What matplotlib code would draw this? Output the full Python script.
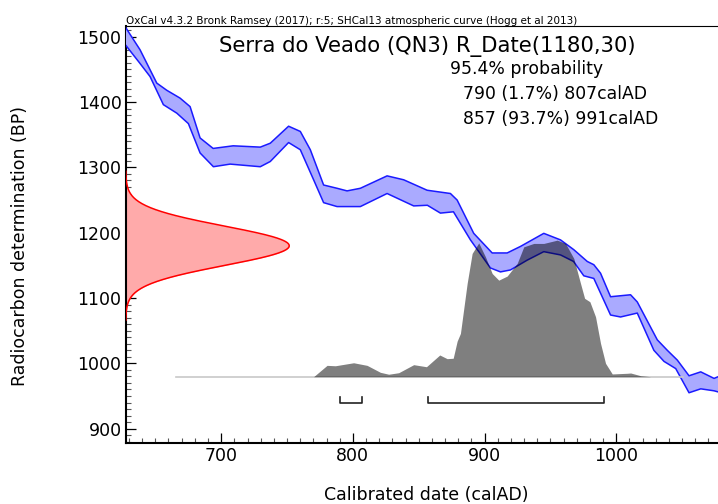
import matplotlib
matplotlib.use("Agg")
import numpy as np
import matplotlib.pyplot as plt
from matplotlib.ticker import MultipleLocator

plt.rcParams["font.family"] = ["DejaVu Sans"]

# Calibration curve (SHCal13), 1-sigma envelope: upper and lower edges
upper_year = [627.5, 638.4, 651.1, 658.7, 668.8, 676.4, 684.0, 693.9, 709.1, 719.5,
              729.7, 737.3, 751.2, 760.1, 767.7, 777.8, 788.0, 795.6, 805.7, 826.0,
              838.6, 856.4, 874.1, 879.2, 891.8, 905.8, 917.2, 927.3, 945.0, 957.7,
              967.8, 978.0, 983.0, 988.1, 995.7, 1010.9, 1016.0, 1031.2, 1038.8, 1046.4,
              1055.3, 1064.2, 1074.3, 1077.9]
upper_bp = [1514, 1480, 1429, 1418, 1406, 1393, 1345, 1329, 1333, 1332,
            1331, 1337, 1363, 1355, 1327, 1273, 1268, 1264, 1268, 1287,
            1281, 1265, 1260, 1250, 1199, 1169, 1169, 1179, 1199, 1189,
            1174, 1156, 1151, 1138, 1102, 1105, 1094, 1036, 1020, 1005,
            981, 987, 977, 980]

lower_year = [627.5, 638.4, 646.0, 656.1, 666.3, 675.1, 684.0, 694.1, 706.8, 729.7,
              737.3, 751.2, 760.1, 770.2, 777.8, 788.0, 805.7, 826.0, 846.2, 856.6,
              866.5, 876.4, 889.3, 904.5, 912.1, 919.7, 932.4, 945.0, 957.7, 967.6,
              975.4, 983.0, 995.7, 1003.3, 1016.0, 1028.6, 1036.3, 1045.2, 1055.3, 1064.2,
              1074.3, 1077.9]
lower_bp = [1487, 1459, 1439, 1396, 1383, 1367, 1322, 1301, 1305, 1301,
            1309, 1338, 1327, 1281, 1246, 1240, 1240, 1260, 1241, 1242,
            1230, 1232, 1189, 1146, 1140, 1143, 1158, 1171, 1166, 1156,
            1134, 1130, 1074, 1071, 1077, 1020, 1003, 992, 955, 961,
            958, 956]

# Radiocarbon measurement R_Date(1180,30)
date_mean = 1180
date_sd = 30

# Calibrated probability distribution (relative)
post_year = [666.0, 770.2, 780.4, 786.7, 800.6, 810.8, 820.9, 827.2, 834.8, 846.2,
             855.9, 866.0, 871.6, 876.2, 879.2, 881.7, 886.8, 890.6, 895.6, 900.7,
             905.8, 910.8, 917.2, 924.8, 929.8, 937.4, 945.0, 950.1, 955.2, 961.5,
             967.8, 972.9, 976.0, 980.0, 984.3, 988.1, 991.9, 997.0, 1008.4, 1011.0,
             1018.6, 1026.2, 1051.0]
post_prob = [0.0, 0.0, 0.083, 0.080, 0.102, 0.083, 0.032, 0.018, 0.029, 0.088,
             0.073, 0.159, 0.132, 0.135, 0.26, 0.317, 0.683, 0.903, 0.980, 0.878,
             0.756, 0.707, 0.737, 0.830, 0.951, 0.976, 0.976, 0.988, 1.0, 0.976,
             0.866, 0.683, 0.574, 0.549, 0.439, 0.244, 0.098, 0.020, 0.025, 0.027,
             0.007, 0.0, 0.0]

# 95.4% highest posterior density ranges
range_start = [790, 857]
range_end = [807, 991]
range_pct = ["1.7%", "93.7%"]

header = "OxCal v4.3.2 Bronk Ramsey (2017); r:5; SHCal13 atmospheric curve (Hogg et al 2013)"
title = "Serra do Veado (QN3) R_Date(1180,30)"

W, H = 718, 504
fig = plt.figure(figsize=(W / 100, H / 100), dpi=100)
ax = fig.add_axes([125.7 / W, (H - 443) / H, (W - 125.7) / W, (443 - 26) / H])
x0, x1 = 627.5, 1077.3
ax.set_xlim(x0, x1)
ax.set_ylim(878.1, 1516.4)

# measurement likelihood along the BP axis
bp = np.linspace(date_mean - 3.8 * date_sd, date_mean + 3.8 * date_sd, 300)
lik = np.exp(-0.5 * ((bp - date_mean) / date_sd) ** 2)
lik_x = x0 + 124.2 * lik
ax.fill_betweenx(bp, x0, lik_x, color="#ffaaaa", lw=0, zorder=2)
ax.plot(lik_x, bp, color="#ff0000", lw=1.1, zorder=3)

# calibration band
band_x = np.r_[upper_year, lower_year[::-1]]
band_y = np.r_[upper_bp, lower_bp[::-1]]
ax.fill(band_x, band_y, color="#aaaaff", lw=0, zorder=3)
ax.plot(upper_year, upper_bp, color="#1a1aff", lw=1.1, zorder=4)
ax.plot(lower_year, lower_bp, color="#1a1aff", lw=1.1, zorder=4)

# calibrated distribution
base = 979.6
scale = 209.0
py = np.array(post_prob)
ax.plot([post_year[0], post_year[-1]], [base, base], color="#c8c8c8", lw=1.2, zorder=4)
ax.fill_between(post_year, base, base + py * scale, color="black", alpha=0.5, lw=0, zorder=5)

# range brackets
for s, e in zip(range_start, range_end):
    ax.plot([s, s, e, e], [948, 939, 939, 948], color="#222222", lw=1.2, zorder=6)

# axes styling
ax.spines["right"].set_visible(False)
ax.spines["left"].set_linewidth(1.5)
ax.spines["bottom"].set_linewidth(1.5)
ax.spines["top"].set_linewidth(0.8)
ax.xaxis.set_major_locator(MultipleLocator(100))
ax.xaxis.set_minor_locator(MultipleLocator(10))
ax.yaxis.set_major_locator(MultipleLocator(100))
ax.yaxis.set_minor_locator(MultipleLocator(10))
ax.tick_params(which="both", direction="in", top=False, right=False)
ax.tick_params(which="major", length=7, width=0.9, labelsize=12.5, pad=3)
ax.tick_params(which="minor", length=3.5, width=0.8, color="#555555")

def fy(p):
    return 1 - p / H

fig.text(125.5 / W, fy(24.5), header, fontsize=7.5, ha="left", va="baseline")
fig.text(427 / W, fy(52), title, fontsize=15.2, ha="center", va="baseline")
fig.text(450 / W, fy(74), "95.4% probability", fontsize=12.4, ha="left", va="baseline")
for i, (s, e, p) in enumerate(zip(range_start, range_end, range_pct)):
    fig.text(462.5 / W, fy(99 + 25 * i), f"{s} ({p}) {e}calAD", fontsize=12.4,
             ha="left", va="baseline")

fig.text(426 / W, fy(500), "Calibrated date (calAD)", fontsize=12.5, ha="center", va="baseline")
fig.text(20.5 / W, fy(245.6), "Radiocarbon determination (BP)", fontsize=12.5,
         ha="center", va="center", rotation=90)

fig.savefig("out.png", dpi=100)
